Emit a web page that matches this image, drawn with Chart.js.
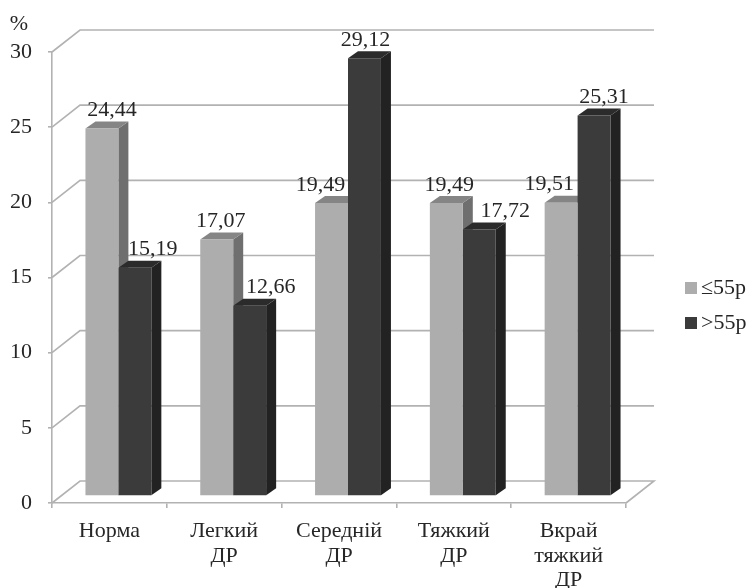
<!DOCTYPE html>
<html>
<head>
<meta charset="utf-8">
<style>
  html, body { margin: 0; padding: 0; background: #fff; }
  #wrap { position: relative; width: 749px; height: 588px; }
  #chart { filter: blur(0.5px); }
</style>
<script src="https://cdn.jsdelivr.net/npm/chart.js@4"></script>
</head>
<body>
<div id="wrap"><canvas id="chart" width="749" height="588"></canvas></div>
<script>
const categories = ["Норма", ["Легкий", "ДР"], ["Середній", "ДР"], ["Тяжкий", "ДР"], ["Вкрай", "тяжкий", "ДР"]];
const seriesNames = ["≤55р", ">55р"];
const youngValues = [24.44, 17.07, 19.49, 19.49, 19.51];
const oldValues = [15.19, 12.66, 29.12, 17.72, 25.31];
const youngLabelNudge = [10, 4, -11, 3, -12];
const oldLabelNudge = [18, 21, 1, 26, 10];

const serif = "'Liberation Serif', 'Times New Roman', serif";
const textColor = "#262626";
const gridColor = "#b2b2b2";

// depth of the fake 3D box and of the bars
const wallDx = 28, wallDy = -22;
const barDx = 9, barDy = -7;
const sideDx = 10, sideDy = -7;

const box3d = {
  id: "box3d",
  beforeDatasetsDraw(chart) {
    const { ctx, scales: { y }, chartArea: a } = chart;
    ctx.save();
    ctx.strokeStyle = gridColor;
    ctx.lineWidth = 1.6;
    y.ticks.forEach((t) => {
      const py = y.getPixelForValue(t.value);
      ctx.beginPath();
      ctx.moveTo(a.left, py);
      ctx.lineTo(a.left + wallDx, py + wallDy);
      ctx.lineTo(a.right + wallDx, py + wallDy);
      if (t.value === 0) {
        ctx.lineTo(a.right, py);
      }
      ctx.stroke();
    });
    // sides and tops go under every bar front
    ctx.translate(barDx, barDy);
    chart.data.datasets.forEach((ds, i) => {
      chart.getDatasetMeta(i).data.forEach((bar) => {
        const right = bar.x + bar.width / 2;
        const left = bar.x - bar.width / 2;
        ctx.fillStyle = ds.sideColor;
        ctx.beginPath();
        ctx.moveTo(right, bar.y);
        ctx.lineTo(right + sideDx, bar.y + sideDy);
        ctx.lineTo(right + sideDx, bar.base + sideDy);
        ctx.lineTo(right, bar.base);
        ctx.closePath();
        ctx.fill();
        ctx.fillStyle = ds.topColor;
        ctx.beginPath();
        ctx.moveTo(left, bar.y);
        ctx.lineTo(left + sideDx, bar.y + sideDy);
        ctx.lineTo(right + sideDx, bar.y + sideDy);
        ctx.lineTo(right, bar.y);
        ctx.closePath();
        ctx.fill();
      });
    });
    ctx.restore();
  },
  beforeDatasetDraw(chart) {
    chart.ctx.save();
    chart.ctx.translate(barDx, barDy);
  },
  afterDatasetDraw(chart) {
    chart.ctx.restore();
  },
  afterDatasetsDraw(chart) {
    const ctx = chart.ctx;
    ctx.save();
    ctx.font = "22px " + serif;
    ctx.fillStyle = textColor;
    ctx.textAlign = "center";
    ctx.textBaseline = "middle";
    chart.data.datasets.forEach((ds, i) => {
      chart.getDatasetMeta(i).data.forEach((bar, j) => {
        const label = ds.data[j].toFixed(2).replace(".", ",");
        ctx.fillText(label, bar.x + barDx + ds.labelNudge[j], bar.y + barDy - 18);
      });
    });
    ctx.fillText("%", 19, 24);

    // legend, the built-in one keeps too wide a gap after the swatch
    ctx.textAlign = "left";
    chart.data.datasets.forEach((ds, i) => {
      const cy = 288 + i * 35;
      ctx.fillStyle = ds.backgroundColor;
      ctx.fillRect(685, cy - 6, 12, 12);
      ctx.fillStyle = textColor;
      ctx.fillText(ds.label, 701, cy);
    });
    ctx.restore();
  },
};

new Chart(document.getElementById("chart"), {
  type: "bar",
  data: {
    labels: categories,
    datasets: [
      {
        label: seriesNames[0],
        data: youngValues,
        backgroundColor: "#adadad",
        sideColor: "#6f6f6f",
        topColor: "#858585",
        labelNudge: youngLabelNudge,
        clip: false,
      },
      {
        label: seriesNames[1],
        data: oldValues,
        backgroundColor: "#3b3b3b",
        sideColor: "#222222",
        topColor: "#2b2b2b",
        labelNudge: oldLabelNudge,
        clip: false,
      },
    ],
  },
  options: {
    responsive: false,
    animation: false,
    layout: { padding: { top: 52, right: 123, left: 0, bottom: 0 } },
    datasets: { bar: { categoryPercentage: 0.574, barPercentage: 1 } },
    plugins: {
      tooltip: { enabled: false },
      legend: { display: false },
    },
    scales: {
      x: {
        afterFit(scale) {
          scale.height = 85;
        },
        grid: { color: gridColor, lineWidth: 1.6, drawOnChartArea: false, tickLength: 5, tickColor: gridColor },
        border: { color: gridColor, width: 1.6 },
        ticks: {
          color: textColor,
          maxRotation: 0,
          autoSkip: false,
          padding: 11,
          font: { family: serif, size: 22, lineHeight: 1.12 },
        },
      },
      y: {
        min: 0,
        max: 30,
        afterFit(scale) {
          scale.width = 52;
        },
        grid: { color: gridColor, lineWidth: 1.6, drawOnChartArea: false, tickLength: 4, tickColor: gridColor },
        border: { color: gridColor, width: 1.6 },
        ticks: {
          stepSize: 5,
          color: textColor,
          padding: 16,
          font: { family: serif, size: 22 },
        },
      },
    },
  },
  plugins: [box3d],
});
</script>
</body>
</html>
